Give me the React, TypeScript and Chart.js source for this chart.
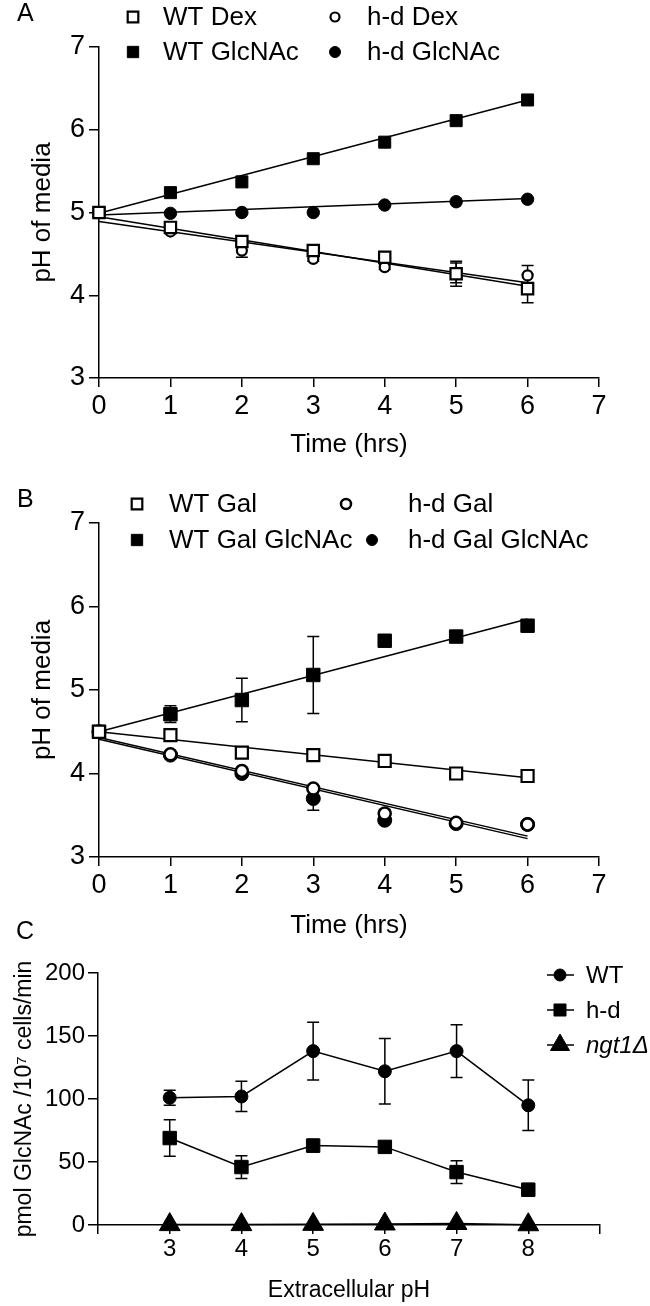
import React, { useEffect, useRef } from 'react';
import { Chart, registerables } from 'chart.js';

Chart.register(...registerables);

const FONT = '"Liberation Sans", Arial, Helvetica, sans-serif';
const W = 650;
const H = 1306;

// ---------- Panel A data ----------
const hoursA = [0, 1, 2, 3, 4, 5, 6];
const wtDexA = [5.0, 4.82, 4.65, 4.54, 4.46, 4.26, 4.08];
const wtDexAErr = [0, 0.03, 0.03, 0.03, 0.03, 0.15, 0.17];
const hdDexA = [5.0, 4.77, 4.54, 4.44, 4.34, 4.27, 4.24];
const hdDexAErr = [0, 0.02, 0.08, 0.03, 0.03, 0.12, 0.12];
const wtGlcA = [5.0, 5.24, 5.37, 5.65, 5.85, 6.11, 6.36];
const wtGlcAErr = [0, 0, 0, 0, 0.04, 0, 0];
const hdGlcA = [5.0, 4.99, 5.0, 5.0, 5.09, 5.13, 5.16];
const hdGlcAErr = [0, 0, 0, 0, 0, 0, 0];
const fitX = [0, 6];
const fitWtDexA = [4.95, 4.11];
const fitHdDexA = [4.89, 4.15];
const fitWtGlcA = [4.99, 6.36];
const fitHdGlcA = [4.97, 5.17];

// ---------- Panel B data ----------
const hoursB = [0, 1, 2, 3, 4, 5, 6];
const wtGalB = [4.5, 4.46, 4.25, 4.22, 4.15, 4.0, 3.97];
const wtGalBErr = [0, 0, 0, 0, 0, 0, 0];
const hdGalB = [4.5, 4.23, 4.03, 3.82, 3.52, 3.41, 3.39];
const hdGalBErr = [0, 0, 0, 0, 0.05, 0, 0];
const wtGalGlcB = [4.5, 4.71, 4.88, 5.18, 5.59, 5.64, 5.77];
const wtGalGlcBErr = [0, 0.1, 0.26, 0.46, 0, 0, 0.07];
const hdGalGlcB = [4.5, 4.22, 4.0, 3.7, 3.44, 3.4, 3.39];
const hdGalGlcBErr = [0, 0, 0, 0.14, 0, 0, 0];
const fitWtGalB = [4.5, 3.95];
const fitWtGalGlcB = [4.5, 5.85];
const fitHdGalB = [4.43, 3.25];
const fitHdGalGlcB = [4.41, 3.22];

// ---------- Panel C data ----------
const phC = [3, 4, 5, 6, 7, 8];
const wtC = [101, 102, 138, 122, 138, 95];
const wtCErr = [6, 12, 23, 26, 21, 20];
const hdC = [69, 46, 63, 62, 42, 28];
const hdCErr = [14.5, 9, 5, 3, 9, 5];
const ngtC = [0.3, 0.3, 0.5, 0.8, 1.2, 0.2];
const ngtCErr = [0, 0, 0, 0, 0, 0];

const pts = (xs: number[], ys: number[]) => xs.map((x, i) => ({ x, y: ys[i] }));

function pointDs(label: string, xs: number[], ys: number[], errs: number[], style: string, r: number, filled: boolean, bw: number, showLine = false) {
  return {
    label,
    data: pts(xs, ys),
    errorBars: errs,
    showLine,
    borderColor: '#000',
    borderWidth: 1.5,
    pointStyle: style,
    pointRadius: r,
    pointHoverRadius: r,
    pointBackgroundColor: filled ? '#000' : '#fff',
    pointBorderColor: '#000',
    pointBorderWidth: bw,
    pointHoverBorderWidth: bw,
    order: 1,
    clip: false,
  };
}

function fitDs(label: string, xs: number[], ys: number[]) {
  return {
    label,
    data: pts(xs, ys),
    showLine: true,
    borderColor: '#000',
    borderWidth: 1.5,
    pointRadius: 0,
    pointHoverRadius: 0,
    order: 5,
    clip: false,
  };
}

function drawMarker(ctx: CanvasRenderingContext2D, style: string, x: number, y: number, r: number, filled: boolean, bw: number) {
  ctx.beginPath();
  if (style === 'rect') {
    const s = r * Math.SQRT1_2;
    ctx.rect(x - s, y - s, 2 * s, 2 * s);
  } else if (style === 'triangle') {
    let rad = 0;
    ctx.moveTo(x + Math.sin(rad) * r, y - Math.cos(rad) * r);
    rad += (2 * Math.PI) / 3;
    ctx.lineTo(x + Math.sin(rad) * r, y - Math.cos(rad) * r);
    rad += (2 * Math.PI) / 3;
    ctx.lineTo(x + Math.sin(rad) * r, y - Math.cos(rad) * r);
    ctx.closePath();
  } else {
    ctx.arc(x, y, r, 0, Math.PI * 2);
  }
  ctx.fillStyle = filled ? '#000' : '#fff';
  ctx.fill();
  ctx.lineWidth = bw;
  ctx.strokeStyle = '#000';
  ctx.stroke();
}

const errorBarPlugin = {
  id: 'errorBars',
  beforeDatasetsDraw(chart: any) {
    const ctx = chart.ctx;
    const yS = chart.scales.y;
    chart.data.datasets.forEach((ds: any, di: number) => {
      const errs = ds.errorBars;
      if (!errs) return;
      const meta = chart.getDatasetMeta(di);
      ctx.save();
      ctx.strokeStyle = '#000';
      ctx.lineWidth = 1.5;
      meta.data.forEach((pt: any, i: number) => {
        const e = errs[i];
        if (!e) return;
        const v = ds.data[i].y;
        const t = yS.getPixelForValue(v + e);
        const b = yS.getPixelForValue(v - e);
        ctx.beginPath();
        ctx.moveTo(pt.x, t);
        ctx.lineTo(pt.x, b);
        ctx.moveTo(pt.x - 6, t);
        ctx.lineTo(pt.x + 6, t);
        ctx.moveTo(pt.x - 6, b);
        ctx.lineTo(pt.x + 6, b);
        ctx.stroke();
      });
      ctx.restore();
    });
  },
};

type LegendItem = {
  text: string;
  style: string;
  filled: boolean;
  r: number;
  bw: number;
  mx: number;
  tx: number;
  y: number;
  line?: [number, number];
  italic?: boolean;
};

function decorPlugin(letter: string, lx: number, ly: number, items: LegendItem[], fontSize: number) {
  return {
    id: 'decor' + letter,
    afterDraw(chart: any) {
      const ctx = chart.ctx;
      ctx.save();
      ctx.fillStyle = '#000';
      ctx.textBaseline = 'middle';
      ctx.textAlign = 'left';
      ctx.font = `25px ${FONT}`;
      ctx.fillText(letter, lx, ly);
      items.forEach((it) => {
        if (it.line) {
          ctx.beginPath();
          ctx.strokeStyle = '#000';
          ctx.lineWidth = 1.5;
          ctx.moveTo(it.line[0], it.y);
          ctx.lineTo(it.line[1], it.y);
          ctx.stroke();
        }
        drawMarker(ctx, it.style, it.mx, it.y, it.r, it.filled, it.bw);
        ctx.fillStyle = '#000';
        ctx.font = `${it.italic ? 'italic ' : ''}${fontSize}px ${FONT}`;
        ctx.textBaseline = 'middle';
        ctx.fillText(it.text, it.tx, it.y + 1);
      });
      ctx.restore();
    },
  };
}

type PanelOpts = {
  left: number;
  right: number;
  top: number;
  bottom: number;
  xMin: number;
  xMax: number;
  yMin: number;
  yMax: number;
  yStep: number;
  xTitle: string;
  yTitle: string;
  tickSize: number;
  titleSize: number;
  xHeight: number;
  xTitlePadBottom: number;
  yTitlePadTop: number;
  xTickPad: number;
  yTickPad: number;
  xLabel: (v: number) => string;
};

function makeOptions(o: PanelOpts) {
  const tickFont = { family: FONT, size: o.tickSize, lineHeight: 1 };
  const titleFont = { family: FONT, size: o.titleSize, lineHeight: 1.2 };
  return {
    responsive: false,
    maintainAspectRatio: false,
    animation: false,
    devicePixelRatio: 1,
    events: [],
    layout: {
      padding: { left: 0, top: o.top, right: W - o.right, bottom: H - o.bottom - o.xHeight },
    },
    plugins: { legend: { display: false }, tooltip: { enabled: false }, title: { display: false } },
    scales: {
      x: {
        type: 'linear',
        min: o.xMin,
        max: o.xMax,
        ticks: {
          stepSize: 1,
          color: '#000',
          font: tickFont,
          padding: o.xTickPad,
          maxRotation: 0,
          autoSkip: false,
          callback: (v: number) => o.xLabel(v),
        },
        grid: { display: true, drawOnChartArea: false, drawTicks: true, tickLength: 9, color: '#000', lineWidth: 1.5 },
        border: { display: true, color: '#000', width: 1.5 },
        title: { display: true, text: o.xTitle, color: '#000', font: titleFont, padding: { top: 0, bottom: o.xTitlePadBottom } },
        afterFit: (s: any) => {
          s.height = o.xHeight;
          s.paddingLeft = 0;
          s.paddingRight = 0;
          s.paddingTop = 0;
          s.paddingBottom = 0;
        },
      },
      y: {
        type: 'linear',
        min: o.yMin,
        max: o.yMax,
        ticks: { stepSize: o.yStep, color: '#000', font: tickFont, padding: o.yTickPad },
        grid: { display: true, drawOnChartArea: false, drawTicks: true, tickLength: 10, color: '#000', lineWidth: 1.5 },
        border: { display: true, color: '#000', width: 1.5 },
        title: { display: true, text: o.yTitle, color: '#000', font: titleFont, padding: { top: o.yTitlePadTop, bottom: 0 } },
        afterFit: (s: any) => {
          s.width = o.left;
          s.paddingLeft = 0;
          s.paddingRight = 0;
          s.paddingTop = 0;
          s.paddingBottom = 0;
        },
      },
    },
  };
}

function configA() {
  const options = makeOptions({
    left: 99, right: 599, top: 47, bottom: 378,
    xMin: 0, xMax: 7, yMin: 3, yMax: 7, yStep: 1,
    xTitle: 'Time (hrs)', yTitle: 'pH of media',
    tickSize: 27, titleSize: 26, xHeight: 90, xTitlePadBottom: 8, yTitlePadTop: 27,
    xTickPad: 6, yTickPad: 4,
    xLabel: (v) => String(v),
  });
  const legend: LegendItem[] = [
    { text: 'WT Dex', style: 'rect', filled: false, r: 7.5, bw: 2.2, mx: 133, tx: 163, y: 17 },
    { text: 'h-d Dex', style: 'circle', filled: false, r: 4.5, bw: 2.2, mx: 335, tx: 367, y: 17 },
    { text: 'WT GlcNAc', style: 'rect', filled: true, r: 8, bw: 1, mx: 133, tx: 163, y: 52 },
    { text: 'h-d GlcNAc', style: 'circle', filled: true, r: 5.5, bw: 1, mx: 335, tx: 367, y: 52 },
  ];
  return {
    type: 'scatter',
    data: {
      datasets: [
        pointDs('WT Dex', hoursA, wtDexA, wtDexAErr, 'rect', 8, false, 2.2),
        pointDs('h-d Dex', hoursA, hdDexA, hdDexAErr, 'circle', 5, false, 2.2),
        pointDs('WT GlcNAc', hoursA, wtGlcA, wtGlcAErr, 'rect', 8.5, true, 1),
        pointDs('h-d GlcNAc', hoursA, hdGlcA, hdGlcAErr, 'circle', 6.2, true, 1),
        fitDs('fit WT Dex', fitX, fitWtDexA),
        fitDs('fit h-d Dex', fitX, fitHdDexA),
        fitDs('fit WT GlcNAc', fitX, fitWtGlcA),
        fitDs('fit h-d GlcNAc', fitX, fitHdGlcA),
      ],
    },
    options,
    plugins: [errorBarPlugin, decorPlugin('A', 17, 14, legend, 26)],
  };
}

function configB() {
  const options = makeOptions({
    left: 99, right: 599, top: 523, bottom: 857,
    xMin: 0, xMax: 7, yMin: 3, yMax: 7, yStep: 1,
    xTitle: 'Time (hrs)', yTitle: 'pH of media',
    tickSize: 27, titleSize: 26, xHeight: 90, xTitlePadBottom: 6, yTitlePadTop: 27,
    xTickPad: 6, yTickPad: 4,
    xLabel: (v) => String(v),
  });
  const legend: LegendItem[] = [
    { text: 'WT Gal', style: 'rect', filled: false, r: 7.5, bw: 2.2, mx: 137, tx: 169, y: 504 },
    { text: 'h-d Gal', style: 'circle', filled: false, r: 5, bw: 2.5, mx: 346, tx: 408, y: 504 },
    { text: 'WT Gal GlcNAc', style: 'rect', filled: true, r: 8, bw: 1, mx: 137, tx: 169, y: 540 },
    { text: 'h-d Gal GlcNAc', style: 'circle', filled: true, r: 5.5, bw: 1, mx: 372, tx: 408, y: 540 },
  ];
  return {
    type: 'scatter',
    data: {
      datasets: [
        pointDs('WT Gal', hoursB, wtGalB, wtGalBErr, 'rect', 8.5, false, 2.2),
        pointDs('h-d Gal', hoursB, hdGalB, hdGalBErr, 'circle', 6, false, 2.5),
        pointDs('WT Gal GlcNAc', hoursB, wtGalGlcB, wtGalGlcBErr, 'rect', 9.5, true, 1),
        pointDs('h-d Gal GlcNAc', hoursB, hdGalGlcB, hdGalGlcBErr, 'circle', 7, true, 1),
        fitDs('fit WT Gal', fitX, fitWtGalB),
        fitDs('fit WT Gal GlcNAc', fitX, fitWtGalGlcB),
        fitDs('fit h-d Gal', fitX, fitHdGalB),
        fitDs('fit h-d Gal GlcNAc', fitX, fitHdGalGlcB),
      ],
    },
    options,
    plugins: [errorBarPlugin, decorPlugin('B', 17, 500, legend, 26)],
  };
}

function configC() {
  const options = makeOptions({
    left: 98, right: 600, top: 973, bottom: 1225,
    xMin: 2, xMax: 9, yMin: 0, yMax: 200, yStep: 50,
    xTitle: 'Extracellular pH', yTitle: 'pmol GlcNAc /10\u2077 cells/min',
    tickSize: 24, titleSize: 23, xHeight: 80, xTitlePadBottom: 1, yTitlePadTop: 11,
    xTickPad: 3, yTickPad: 3,
    xLabel: (v) => (v >= 3 && v <= 8 ? String(v) : ''),
  });
  const legend: LegendItem[] = [
    { text: 'WT', style: 'circle', filled: true, r: 6, bw: 1, mx: 560, tx: 586, y: 975, line: [547, 574] },
    { text: 'h-d', style: 'rect', filled: true, r: 8.5, bw: 1, mx: 560, tx: 586, y: 1010, line: [547, 574] },
    { text: 'ngt1\u0394', style: 'triangle', filled: true, r: 11, bw: 1, mx: 560, tx: 586, y: 1045, line: [547, 574], italic: true },
  ];
  return {
    type: 'scatter',
    data: {
      datasets: [
        pointDs('WT', phC, wtC, wtCErr, 'circle', 6.5, true, 1, true),
        pointDs('h-d', phC, hdC, hdCErr, 'rect', 9.5, true, 1, true),
        pointDs('ngt1\u0394', phC, ngtC, ngtCErr, 'triangle', 12, true, 1, true),
      ],
    },
    options,
    plugins: [errorBarPlugin, decorPlugin('C', 16, 932, legend, 24)],
  };
}

function Panel({ make }: { make: () => any }) {
  const ref = useRef<HTMLCanvasElement | null>(null);
  useEffect(() => {
    if (!ref.current) return;
    const chart = new Chart(ref.current, make());
    return () => chart.destroy();
  }, [make]);
  return (
    <canvas
      ref={ref}
      width={W}
      height={H}
      style={{ position: 'absolute', left: 0, top: 0, width: W, height: H }}
    />
  );
}

export default function App() {
  return (
    <div style={{ position: 'absolute', left: 0, top: 0, width: W, height: H, background: '#fff', overflow: 'hidden' }}>
      <Panel make={configA} />
      <Panel make={configB} />
      <Panel make={configC} />
    </div>
  );
}
